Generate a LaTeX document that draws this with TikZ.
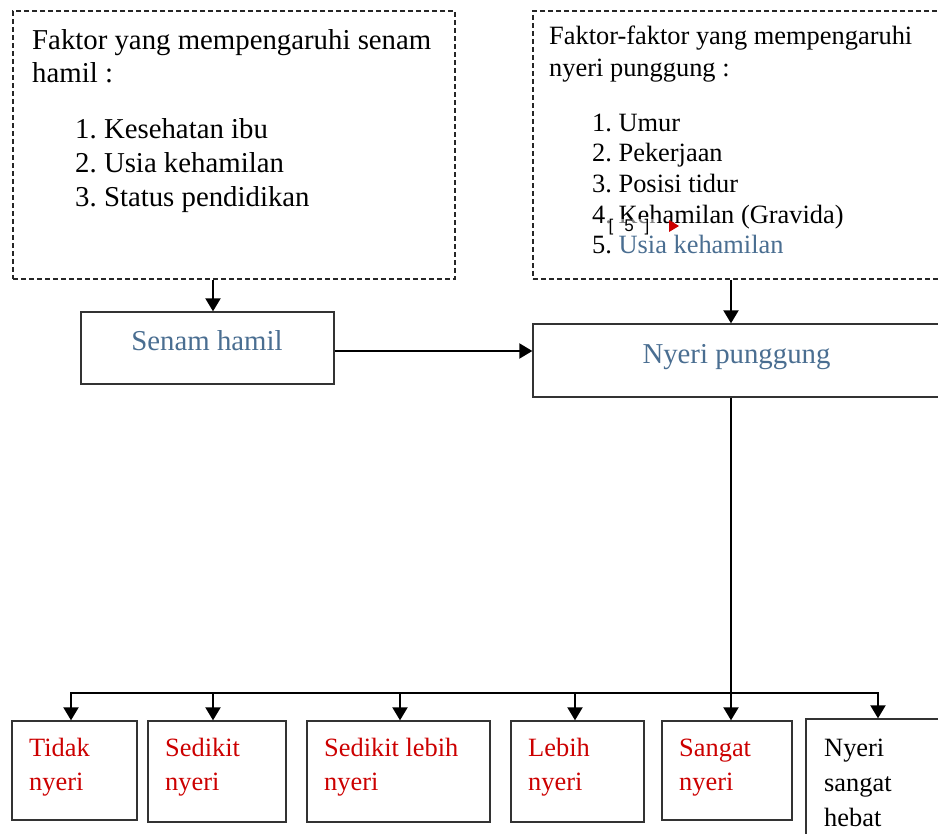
\documentclass[tikz,border=0pt]{standalone}
\usepackage{fontspec}
\setmainfont{Liberation Serif}
\setsansfont{Liberation Sans}
\usetikzlibrary{arrows.meta}
\definecolor{tblue}{RGB}{74,110,145}
\definecolor{tred}{RGB}{204,0,0}
\frenchspacing
\tikzset{
  box/.style={draw=black!80, line width=1.3pt, rectangle, inner sep=0pt},
  dbox/.style={draw=black!85, line width=1.2pt, dash pattern=on 5pt off 3pt, rectangle, inner sep=0pt},
  conn/.style={draw=black, line width=2pt},
  arr/.style={conn, -{Triangle[length=13pt,width=15pt]}},
  big/.style={anchor=base west, inner sep=0pt, font=\fontsize{28.8}{34}\selectfont},
  mid/.style={anchor=base west, inner sep=0pt, font=\fontsize{26.4}{31}\selectfont},
}
\begin{document}
\begin{tikzpicture}[x=1pt,y=-1pt]
\useasboundingbox (0,0) rectangle (938,834);
\clip (0,0) rectangle (938,834);
% top boxes
\node[dbox, minimum width=442pt, minimum height=268pt] (lbox) at (234,145) {};
\node[dbox, minimum width=420pt, minimum height=268pt] (rbox) at (743,145) {};
\node[big] (l1) at (32,50) {Faktor yang mempengaruhi senam};
\node[big] (l2) at (32,83) {hamil :};
\node[big] (l3) at (75,139) {1. Kesehatan ibu};
\node[big] (l4) at (75,173) {2. Usia kehamilan};
\node[big] (l5) at (75,207) {3. Status pendidikan};
\node[mid] (r1) at (549,45) {Faktor-faktor yang mempengaruhi};
\node[mid] (r2) at (549,77) {nyeri punggung :};
\node[mid] (r3) at (592,132) {1. Umur};
\node[mid] (r4) at (592,162) {2. Pekerjaan};
\node[mid] (r5) at (592,193) {3. Posisi tidur};
\node[mid] (r6) at (592,224) {4. Kehamilan (Gravida)};
\node[mid] (r7) at (592,254) {5. \textcolor{tblue}{Usia kehamilan}};
\node[anchor=center, inner sep=0pt, fill=white, fill opacity=0.5, text opacity=1, font=\sffamily\fontsize{17}{19}\selectfont, minimum width=54pt, minimum height=16pt] (mk) at (629,227) {[\hspace{11pt}5\hspace{11pt}]};
\fill[tred] (669,220) -- (679,226) -- (669,232) -- cycle;
% middle boxes
\node[box, minimum width=253pt, minimum height=72pt] (senam) at (207.5,348) {};
\node[anchor=base, inner sep=0pt, text=tblue, font=\fontsize{28.8}{34}\selectfont] (senamt) at (207,351) {Senam hamil};
\node[box, minimum width=420pt, minimum height=73pt] (nyeri) at (743,360.5) {};
\node[anchor=base, inner sep=0pt, text=tblue, font=\fontsize{28.8}{34}\selectfont] (nyerit) at (736.5,364) {Nyeri punggung};
% bottom boxes
\node[box, minimum width=125pt, minimum height=99pt] (b1) at (74.5,770.5) {};
\node[box, minimum width=138pt, minimum height=101pt] (b2) at (217,771.5) {};
\node[box, minimum width=183pt, minimum height=101pt] (b3) at (398.5,771.5) {};
\node[box, minimum width=133pt, minimum height=101pt] (b4) at (577.5,771.5) {};
\node[box, minimum width=130pt, minimum height=99pt] (b5) at (727,770.5) {};
\node[box, minimum width=150pt, minimum height=130pt] (b6) at (881,784) {};
\node[mid, text=tred] (t1a) at (29,756) {Tidak};
\node[mid, text=tred] (t1b) at (29,790) {nyeri};
\node[mid, text=tred] (t2a) at (165,756) {Sedikit};
\node[mid, text=tred] (t2b) at (165,790) {nyeri};
\node[mid, text=tred] (t3a) at (324,756) {Sedikit lebih};
\node[mid, text=tred] (t3b) at (324,790) {nyeri};
\node[mid, text=tred] (t4a) at (528,756) {Lebih};
\node[mid, text=tred] (t4b) at (528,790) {nyeri};
\node[mid, text=tred] (t5a) at (679,756) {Sangat};
\node[mid, text=tred] (t5b) at (679,790) {nyeri};
\node[mid] (t6a) at (824,756) {Nyeri};
\node[mid] (t6b) at (824,791) {sangat};
\node[mid] (t6c) at (824,826) {hebat};
% connectors
\draw[arr] (lbox.south -| 213,0) -- (senam.north -| 213,0);
\draw[arr] (rbox.south -| 731,0) -- (nyeri.north -| 731,0);
\draw[arr] (senam.east |- 0,351) -- (nyeri.west |- 0,351);
\coordinate (hub) at (731,693);
\coordinate (hl) at (71,693);
\coordinate (hr) at (878,693);
\draw[conn] (nyeri.south -| hub) -- (hub);
\draw[conn, line cap=rect] (hl) -- (hr);
\draw[arr] (hl) -- (b1.north -| hl);
\draw[arr] (213,693) -- (b2.north -| 213,0);
\draw[arr] (400,693) -- (b3.north -| 400,0);
\draw[arr] (575,693) -- (b4.north -| 575,0);
\draw[arr] (hub) -- (b5.north -| hub);
\draw[arr] (hr) -- (b6.north -| hr);
\end{tikzpicture}
\end{document}
